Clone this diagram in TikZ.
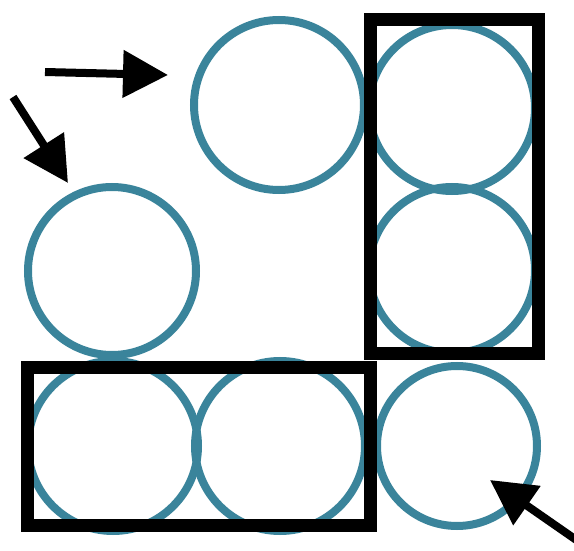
\documentclass[tikz,border=0pt]{standalone}
\usetikzlibrary{arrows.meta}
\definecolor{teal1}{RGB}{58,132,155}
\tikzset{
  ball/.style={circle, draw=teal1, line width=8pt, inner sep=0pt, minimum size=#1},
  box/.style={draw=black, line width=13pt, line join=miter},
  pointer/.style={draw=black, line width=8pt, -{Triangle[length=45pt,width=46pt]}}
}
\begin{document}
\begin{tikzpicture}[x=1pt,y=-1pt]
\useasboundingbox (0,0) rectangle (574,551);
% circles
\node[ball=170pt] (tm) at (279,105) {};
\node[ball=166pt] (tr) at (452,108) {};
\node[ball=166pt] (mr) at (452,270) {};
\node[ball=168pt] (ml) at (112,271) {};
\node[ball=170pt] (bl) at (113,446) {};
\node[ball=170pt] (bm) at (280,446) {};
\node[ball=160pt] (br) at (457,446) {};
% boxes
\draw[box] (370,20) rectangle (538,353);
\draw[box] (27,367) rectangle (370,525);
% arrows
\coordinate (a1s) at (45,72);
\coordinate (a1e) at (168,75);
\coordinate (a2s) at (13,97);
\coordinate (a2e) at (68,183);
\coordinate (a3s) at (585,546);
\coordinate (a3e) at (490,480);
\draw[pointer] (a1s) -- (a1e);
\draw[pointer] (a2s) -- (a2e);
\draw[pointer] (a3s) -- (a3e);
\end{tikzpicture}
\end{document}
